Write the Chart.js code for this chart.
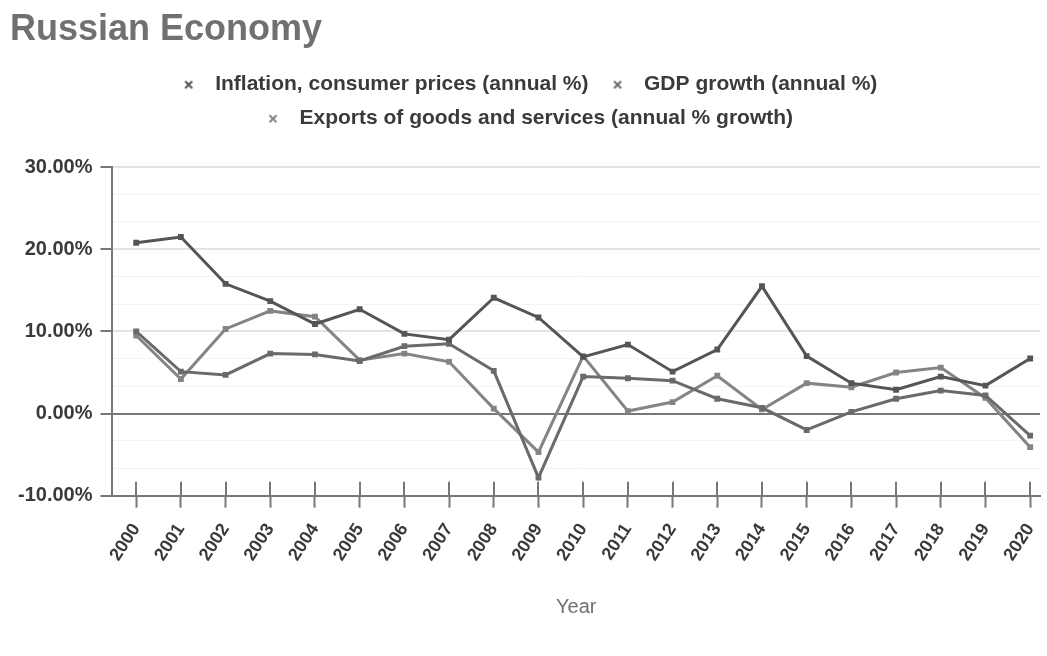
<!DOCTYPE html>
<html>
<head>
<meta charset="utf-8">
<title>Russian Economy</title>
<script src="https://cdn.jsdelivr.net/npm/chart.js@4/dist/chart.umd.min.js"></script>
<style>
  html, body { margin: 0; padding: 0; background: #ffffff; }
  #wrap { width: 1047px; height: 656px; position: relative; }
</style>
</head>
<body>
<div id="wrap"><canvas id="chart"></canvas></div>
<script>
// Years on the x axis
const years = [2000, 2001, 2002, 2003, 2004, 2005, 2006, 2007, 2008, 2009, 2010,
               2011, 2012, 2013, 2014, 2015, 2016, 2017, 2018, 2019, 2020];

// Inflation, consumer prices (annual %)
const inflation = [20.8, 21.5, 15.8, 13.7, 10.9, 12.7, 9.7, 9.0, 14.1, 11.7, 6.9,
                   8.4, 5.1, 7.8, 15.5, 7.0, 3.7, 2.9, 4.5, 3.4, 6.7];

// GDP growth (annual %)
const gdpGrowth = [10.0, 5.1, 4.7, 7.3, 7.2, 6.4, 8.2, 8.5, 5.2, -7.8, 4.5,
                   4.3, 4.0, 1.8, 0.7, -2.0, 0.2, 1.8, 2.8, 2.2, -2.7];

// Exports of goods and services (annual % growth)
const exportsGrowth = [9.5, 4.2, 10.3, 12.5, 11.8, 6.5, 7.3, 6.3, 0.6, -4.7, 7.0,
                       0.3, 1.4, 4.6, 0.5, 3.7, 3.2, 5.0, 5.6, 1.9, -4.1];

// Y axis tick labels (every 10%)
const yTickLabels = ['-10.00%', '0.00%', '10.00%', '20.00%', '30.00%'];

const seriesNames = [
  'Inflation, consumer prices (annual %)',
  'GDP growth (annual %)',
  'Exports of goods and services (annual % growth)'
];

const seriesColors = ['#555555', '#6a6a6a', '#848484'];

const toPoints = vals => vals.map((v, i) => ({ x: years[i], y: v }));

const FONT = '"Liberation Sans", Arial, Helvetica, sans-serif';

// Small "x" marker used in the legend
function crossMarker(color) {
  const c = document.createElement('canvas');
  c.width = 10;
  c.height = 10;
  const g = c.getContext('2d');
  g.strokeStyle = color;
  g.lineWidth = 2;
  g.beginPath();
  g.moveTo(1.5, 1.5); g.lineTo(8.5, 8.5);
  g.moveTo(8.5, 1.5); g.lineTo(1.5, 8.5);
  g.stroke();
  return c;
}
const legendMarkers = seriesColors.map(crossMarker);

// Draws the part of each x tick mark that sits above the axis line
const crossTicks = {
  id: 'crossTicks',
  afterDraw(chart) {
    const xs = chart.scales.x;
    const ctx = chart.ctx;
    const yAxis = chart.chartArea.bottom;
    ctx.save();
    ctx.strokeStyle = '#777777';
    ctx.lineWidth = 2;
    xs.ticks.forEach((t, i) => {
      const px = Math.round(xs.getPixelForTick(i));
      ctx.beginPath();
      ctx.moveTo(px, yAxis - 14);
      ctx.lineTo(px, yAxis);
      ctx.stroke();
    });
    ctx.restore();
  }
};

// Leaves some extra room between the legend and the plot area
const legendGap = {
  id: 'legendGap',
  beforeUpdate(chart) {
    const lg = chart.legend;
    if (!lg || lg._gapPatched) return;
    const fit = lg.fit;
    lg.fit = function () {
      fit.call(this);
      this.height += 28;
    };
    lg._gapPatched = true;
  }
};

function majorTick(v) {
  return Math.abs(v / 10 - Math.round(v / 10)) < 1e-6;
}

function lineSet(label, values, color) {
  return {
    label,
    data: toPoints(values),
    borderColor: color,
    backgroundColor: color,
    borderWidth: 3,
    pointRadius: 2,
    pointStyle: 'rect',
    tension: 0
  };
}

new Chart(document.getElementById('chart'), {
  type: 'line',
  data: {
    datasets: [
      lineSet(seriesNames[0], inflation, seriesColors[0]),
      lineSet(seriesNames[1], gdpGrowth, seriesColors[1]),
      lineSet(seriesNames[2], exportsGrowth, seriesColors[2])
    ]
  },
  options: {
    responsive: true,
    maintainAspectRatio: false,
    animation: false,
    layout: { padding: { left: 10, right: 7, top: 6, bottom: 33 } },
    plugins: {
      title: {
        display: true,
        text: 'Russian Economy',
        align: 'start',
        color: '#707070',
        font: { family: FONT, size: 36, weight: 'bold' },
        padding: { top: 2, bottom: 10 }
      },
      legend: {
        display: true,
        position: 'top',
        labels: {
          usePointStyle: true,
          pointStyleWidth: 32,
          boxHeight: 10,
          color: '#3a3a3a',
          font: { family: FONT, size: 21, weight: 'bold' },
          padding: 13,
          generateLabels(chart) {
            const items = Chart.defaults.plugins.legend.labels.generateLabels(chart);
            items.forEach((it, i) => { it.pointStyle = legendMarkers[i]; });
            return items;
          }
        }
      },
      tooltip: { enabled: false }
    },
    scales: {
      x: {
        type: 'linear',
        min: 1999.47,
        max: 2020.22,
        afterBuildTicks(scale) {
          scale.ticks = years.map(y => ({ value: y }));
        },
        afterFit(scale) {
          scale.paddingLeft = 0;
          scale.paddingRight = 0;
        },
        ticks: {
          autoSkip: false,
          minRotation: 57,
          maxRotation: 57,
          color: '#3a3a3a',
          font: { family: FONT, size: 18, weight: 'bold' },
          padding: 12,
          callback: v => String(v)
        },
        grid: {
          display: true,
          drawOnChartArea: false,
          tickLength: 12,
          tickColor: '#777777',
          tickWidth: 2
        },
        border: { display: true, color: '#777777', width: 2 },
        title: {
          display: true,
          text: 'Year',
          color: '#707070',
          font: { family: FONT, size: 20 },
          padding: { top: 18 }
        }
      },
      y: {
        min: -10,
        max: 30,
        afterBuildTicks(scale) {
          const t = [];
          for (let k = 0; k <= 12; k++) t.push({ value: -10 + k * 10 / 3 });
          scale.ticks = t;
        },
        ticks: {
          color: '#3a3a3a',
          font: { family: FONT, size: 20, weight: 'bold' },
          padding: 8,
          callback: function (v) {
            if (!majorTick(v)) return '';
            return yTickLabels[Math.round((v + 10) / 10)];
          }
        },
        grid: {
          color: ctx => {
            const v = ctx.tick ? ctx.tick.value : 0;
            if (Math.abs(v) < 1e-6) return '#777777';
            return majorTick(v) ? '#e3e3e3' : '#f4f4f4';
          },
          lineWidth: ctx => {
            const v = ctx.tick ? ctx.tick.value : 0;
            return majorTick(v) ? 2 : 1;
          },
          tickColor: ctx => (ctx.tick && majorTick(ctx.tick.value)) ? '#777777' : 'rgba(0,0,0,0)',
          tickLength: 12,
          tickWidth: 2
        },
        border: { display: true, color: '#777777', width: 2 }
      }
    }
  },
  plugins: [crossTicks, legendGap]
});
</script>
</body>
</html>
